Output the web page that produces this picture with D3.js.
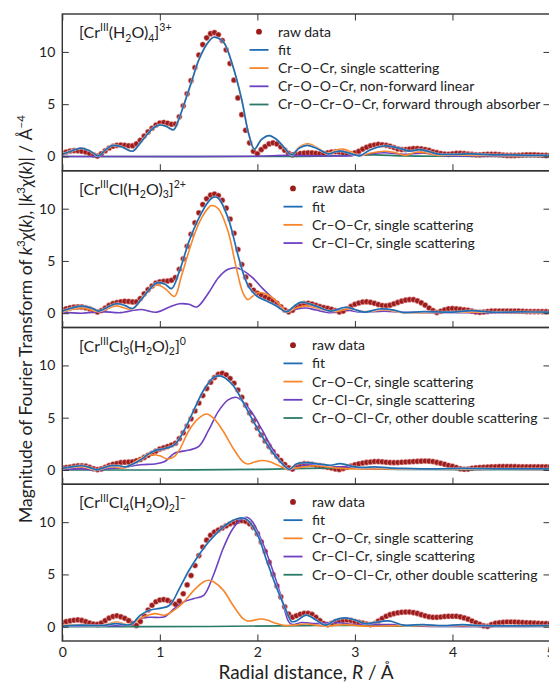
<!DOCTYPE html>
<html><head><meta charset="utf-8">
<script src="https://cdn.jsdelivr.net/npm/d3@7"></script>
<style>
html,body{margin:0;padding:0;background:#fff;}
svg{display:block;}
text{font-family:Lato,"Open Sans",sans-serif;fill:#222;}
</style></head>
<body>
<svg id="chart" width="549" height="682"></svg>
<script>
// ---------------- DATA ----------------
const rawStep = 0.04;           // R spacing of raw data points (Å)
const xTickLabels = ["0","1","2","3","4","5"];
const yTickValues = [0,5,10];

// raw data |k3 chi(R)| sampled every 0.04 Å from 0 to 5
const raw1 = [0.30,0.42,0.52,0.56,0.55,0.50,0.42,0.30,0.15,0.03,0.25,0.55,0.80,0.98,1.06,1.10,1.06,1.02,1.02,1.20,
1.55,1.95,2.35,2.70,3.00,3.20,3.25,3.18,3.08,3.10,3.80,4.85,6.00,7.25,8.50,9.70,10.70,11.35,11.75,11.85,
11.65,11.10,10.20,8.90,7.30,5.60,4.00,2.50,1.30,0.50,0.25,0.65,0.95,1.20,1.30,1.20,0.92,0.60,0.30,0.15,
0.20,0.28,0.33,0.35,0.34,0.30,0.26,0.27,0.35,0.42,0.45,0.42,0.35,0.27,0.25,0.35,0.50,0.70,0.88,1.02,
1.10,1.15,1.12,1.06,0.98,0.85,0.72,0.66,0.66,0.71,0.75,0.75,0.72,0.66,0.58,0.45,0.37,0.28,0.22,0.20,
0.25,0.29,0.30,0.28,0.24,0.20,0.16,0.15,0.18,0.20,0.20,0.20,0.17,0.13,0.10,0.10,0.10,0.11,0.13,0.15,
0.15,0.15,0.13,0.11,0.10,0.10];
const raw2 = [0.30,0.42,0.52,0.58,0.60,0.60,0.52,0.42,0.25,0.12,0.25,0.50,0.75,0.92,1.02,1.10,1.14,1.12,1.08,1.08,
1.40,1.85,2.25,2.60,2.88,3.00,3.04,3.08,3.15,3.40,4.20,5.20,6.40,7.55,8.65,9.60,10.40,10.95,11.30,11.40,
11.25,10.80,10.05,9.00,7.65,6.10,4.65,3.45,2.65,2.20,1.90,1.70,1.52,1.37,1.20,0.95,0.62,0.30,0.13,0.28,
0.60,0.80,0.92,0.95,0.88,0.75,0.63,0.54,0.46,0.37,0.25,0.12,0.20,0.42,0.65,0.85,0.98,1.07,1.10,1.04,
0.95,0.83,0.73,0.70,0.77,0.90,1.03,1.15,1.25,1.30,1.30,1.18,1.00,0.77,0.50,0.25,0.07,0.18,0.32,0.42,
0.45,0.42,0.37,0.33,0.28,0.20,0.12,0.08,0.12,0.16,0.20,0.20,0.20,0.20,0.20,0.20,0.20,0.20,0.18,0.16,
0.15,0.15,0.15,0.15,0.15,0.15];
const raw3 = [0.20,0.24,0.28,0.34,0.40,0.40,0.36,0.26,0.12,0.03,0.10,0.26,0.42,0.54,0.62,0.70,0.74,0.75,0.78,0.88,
1.00,1.20,1.40,1.60,1.80,2.00,2.12,2.24,2.38,2.55,3.00,3.55,4.20,4.90,5.65,6.40,7.12,7.80,8.40,8.85,
9.15,9.25,9.10,8.75,8.30,7.65,6.95,6.20,5.45,4.70,4.00,3.35,2.78,2.25,1.75,1.30,0.90,0.52,0.20,0.08,
0.35,0.52,0.60,0.59,0.54,0.45,0.41,0.34,0.26,0.18,0.10,0.04,0.14,0.26,0.38,0.50,0.58,0.66,0.72,0.76,
0.80,0.80,0.78,0.74,0.71,0.70,0.71,0.74,0.76,0.78,0.80,0.82,0.84,0.85,0.84,0.80,0.72,0.64,0.54,0.43,
0.35,0.23,0.12,0.06,0.08,0.16,0.21,0.24,0.26,0.28,0.30,0.31,0.32,0.33,0.33,0.33,0.32,0.31,0.30,0.30,
0.30,0.30,0.30,0.30,0.30,0.30];
const raw4 = [0.40,0.48,0.56,0.62,0.65,0.60,0.48,0.35,0.25,0.22,0.35,0.58,0.82,0.98,1.05,0.95,0.80,0.58,0.30,0.12,
0.50,1.05,1.60,2.05,2.38,2.55,2.60,2.52,2.33,2.15,2.45,3.15,4.00,4.90,5.85,6.80,7.62,8.28,8.75,9.05,
9.25,9.45,9.65,9.85,9.98,10.10,10.15,10.08,9.85,9.50,8.90,8.10,7.20,6.15,5.00,3.90,2.85,1.90,1.20,0.90,
1.05,1.18,1.27,1.28,1.18,0.90,0.58,0.30,0.20,0.32,0.50,0.58,0.63,0.64,0.60,0.50,0.42,0.34,0.26,0.20,
0.30,0.54,0.78,1.00,1.15,1.25,1.33,1.38,1.40,1.40,1.35,1.27,1.15,1.04,0.95,0.90,0.90,0.93,0.97,1.00,
1.00,1.00,0.94,0.84,0.72,0.55,0.38,0.22,0.08,0.03,0.20,0.33,0.38,0.42,0.45,0.45,0.44,0.42,0.40,0.38,
0.36,0.34,0.32,0.30,0.30,0.30];

// fitted curves and paths: [R, magnitude]
const fit1 = [[0,0.2],[0.1,0.55],[0.19,0.8],[0.28,0.55],[0.37,0.06],[0.44,0.6],[0.51,1.05],[0.6,0.95],[0.72,0.5],[0.8,1.3],[0.87,2.1],[0.93,2.7],[0.99,3.0],[1.06,2.9],[1.14,2.55],[1.18,3.2],[1.23,4.5],[1.32,7.0],[1.40,9.25],[1.49,10.85],[1.55,11.4],[1.6,11.3],[1.66,10.85],[1.75,8.6],[1.84,5.4],[1.91,2.2],[1.97,0.7],[2.04,1.6],[2.12,2.0],[2.2,1.6],[2.28,0.8],[2.35,0.16],[2.43,0.8],[2.51,1.05],[2.6,0.8],[2.73,0.25],[2.8,0.45],[2.86,0.5],[2.95,0.3],[3.05,0.06],[3.15,0.6],[3.3,1.0],[3.45,0.8],[3.56,0.5],[3.66,0.65],[3.75,0.5],[3.84,0.25],[4.0,0.2],[4.2,0.25],[4.4,0.15],[4.6,0.15],[4.8,0.1],[5.0,0.1]];
const oSS1 = [[0,0.2],[0.1,0.55],[0.19,0.8],[0.28,0.55],[0.37,0.06],[0.44,0.6],[0.51,1.05],[0.6,0.95],[0.72,0.5],[0.8,1.3],[0.87,2.1],[0.93,2.7],[0.99,3.0],[1.06,2.9],[1.14,2.55],[1.18,3.2],[1.23,4.5],[1.32,7.0],[1.40,9.25],[1.49,10.85],[1.55,11.4],[1.6,11.3],[1.66,10.85],[1.75,8.6],[1.84,5.4],[1.91,2.2],[1.97,0.7],[2.04,1.6],[2.12,2.0],[2.2,1.6],[2.28,0.8],[2.35,0.16],[2.43,0.9],[2.52,1.2],[2.62,0.8],[2.72,0.3],[2.8,0.6],[2.88,0.7],[2.97,0.4],[3.05,0.05],[3.15,0.3],[3.3,0.5],[3.42,0.35],[3.52,0.1],[3.62,0.4],[3.72,0.35],[3.85,0.1],[4.0,0.15],[4.3,0.1],[5,0.05]];
const pNF1 = [[0,0.0],[1,0.0],[2,0.02],[2.3,0.1],[2.6,0.05],[2.9,0.05],[3.1,0.2],[3.3,0.35],[3.5,0.2],[3.7,0.3],[3.9,0.1],[4.2,0.05],[5,0.02]];
const gFW1 = [[0,0],[2.5,0],[2.9,0.08],[3.2,0.15],[3.5,0.05],[4,0.02],[5,0.0]];

const fit2 = [[0,0.2],[0.1,0.5],[0.2,0.67],[0.3,0.5],[0.37,0.2],[0.45,0.5],[0.55,0.9],[0.64,0.75],[0.72,0.45],[0.8,1.2],[0.87,2.0],[0.97,2.9],[1.05,2.8],[1.12,2.35],[1.2,4.0],[1.3,6.9],[1.4,9.1],[1.5,10.7],[1.55,11.1],[1.6,11.0],[1.7,9.1],[1.8,5.6],[1.87,3.4],[1.92,2.4],[2.0,1.6],[2.1,1.15],[2.2,0.67],[2.3,0.13],[2.38,0.7],[2.45,1.05],[2.6,0.67],[2.75,0.2],[2.9,0.57],[3.0,0.35],[3.1,0.1],[3.25,0.4],[3.4,0.3],[3.5,0.06],[3.7,0.15],[4.0,0.1],[4.2,0.25],[4.4,0.1],[4.7,0.12],[5,0.1]];
const oSS2 = [[0,0.1],[0.2,0.5],[0.37,0.15],[0.55,0.7],[0.72,0.4],[0.85,1.8],[0.97,2.7],[1.06,2.3],[1.15,1.6],[1.22,3.5],[1.3,6.0],[1.4,8.6],[1.5,10.1],[1.53,10.3],[1.6,10.0],[1.7,7.8],[1.78,4.5],[1.85,2.0],[1.9,1.3],[1.95,1.6],[2.0,1.95],[2.07,1.9],[2.15,1.5],[2.25,0.6],[2.3,0.1],[2.4,0.5],[2.5,0.7],[2.65,0.4],[2.8,0.15],[2.95,0.4],[3.1,0.15],[3.3,0.3],[3.5,0.05],[4,0.1],[5,0.05]];
const clSS2 = [[0,0.1],[0.2,0.0],[0.4,0.15],[0.6,0.05],[0.8,0.35],[0.97,0.1],[1.1,0.6],[1.2,0.9],[1.3,0.85],[1.38,0.6],[1.5,1.95],[1.6,3.4],[1.7,4.2],[1.78,4.35],[1.85,4.1],[1.95,3.4],[2.05,2.4],[2.15,1.5],[2.25,0.5],[2.3,0.15],[2.4,0.4],[2.5,0.5],[2.6,0.3],[2.75,0.05],[2.9,0.3],[3.05,0.1],[3.3,0.2],[3.5,0.1],[4,0.05],[5,0.05]];

const fit3 = [[0,0.15],[0.1,0.3],[0.2,0.4],[0.28,0.25],[0.35,0.0],[0.42,0.2],[0.5,0.4],[0.58,0.4],[0.65,0.3],[0.72,0.55],[0.8,0.95],[0.88,1.5],[0.95,1.85],[1.05,2.05],[1.15,2.4],[1.25,3.8],[1.35,5.75],[1.45,7.65],[1.55,8.85],[1.6,9.0],[1.65,8.9],[1.75,8.1],[1.85,6.55],[1.95,4.8],[2.05,3.2],[2.15,1.75],[2.25,0.65],[2.33,0.06],[2.4,0.57],[2.5,0.7],[2.65,0.55],[2.75,0.45],[2.85,0.6],[3.0,0.3],[3.1,0.25],[3.2,0.3],[3.35,0.2],[3.5,0.15],[3.8,0.1],[4.1,0.15],[4.5,0.1],[5,0.1]];
const oSS3 = [[0,0.1],[0.2,0.3],[0.35,0.0],[0.5,0.3],[0.65,0.2],[0.8,1.1],[0.92,1.45],[1.0,1.35],[1.08,1.05],[1.15,1.3],[1.2,1.9],[1.3,3.8],[1.4,4.95],[1.48,5.35],[1.55,4.95],[1.65,3.7],[1.75,2.1],[1.85,0.8],[1.9,0.57],[1.97,0.75],[2.05,0.9],[2.12,0.8],[2.2,0.5],[2.3,0.1],[2.4,0.2],[2.6,0.4],[2.8,0.2],[3.0,0.1],[3.3,0.1],[5,0.05]];
const clSS3 = [[0,0.05],[0.2,0.1],[0.35,0.0],[0.5,0.15],[0.6,0.2],[0.8,0.5],[0.95,0.57],[1.05,0.8],[1.15,1.6],[1.3,1.9],[1.4,2.25],[1.5,3.8],[1.6,5.6],[1.7,6.7],[1.78,6.95],[1.85,6.55],[1.95,5.4],[2.05,3.8],[2.15,2.1],[2.25,0.65],[2.33,0.05],[2.45,0.4],[2.6,0.5],[2.75,0.3],[2.9,0.3],[3.1,0.15],[3.5,0.1],[5,0.05]];
const dsOCl3 = [[0,0.0],[1,0.0],[2,0.05],[2.5,0.15],[3,0.15],[3.5,0.05],[5,0.02]];

const fit4 = [[0,0.05],[0.2,0.15],[0.4,0.1],[0.55,0.3],[0.7,0.2],[0.8,1.1],[0.9,1.6],[1.0,1.75],[1.1,2.05],[1.2,3.65],[1.3,5.4],[1.4,6.85],[1.5,8.1],[1.6,9.1],[1.7,9.9],[1.8,10.35],[1.85,10.4],[1.9,10.2],[2.0,8.8],[2.1,6.2],[2.2,3.65],[2.3,1.45],[2.35,0.5],[2.4,0.55],[2.5,1.1],[2.6,0.65],[2.7,0.15],[2.8,0.65],[2.9,0.85],[3.0,0.65],[3.1,0.3],[3.2,0.4],[3.35,0.55],[3.5,0.15],[3.7,0.2],[3.9,0.1],[4.1,0.2],[4.3,0.1],[5,0.1]];
const oSS4 = [[0,0.1],[0.2,0.2],[0.4,0.1],[0.55,0.45],[0.7,0.2],[0.8,0.8],[0.95,1.25],[1.05,1.1],[1.15,1.6],[1.25,2.4],[1.35,3.5],[1.45,4.3],[1.5,4.45],[1.55,4.3],[1.65,3.5],[1.75,2.05],[1.85,0.8],[1.9,0.55],[2.05,0.73],[2.2,0.3],[2.3,0.1],[2.5,0.25],[2.7,0.05],[2.9,0.2],[3.1,0.05],[3.5,0.1],[5,0.05]];
const clSS4 = [[0,0.05],[0.3,0.1],[0.5,0.1],[0.7,0.2],[0.8,0.8],[0.9,0.9],[1.05,0.95],[1.15,1.75],[1.25,2.4],[1.35,2.7],[1.45,3.0],[1.55,4.95],[1.65,7.5],[1.75,9.4],[1.85,10.35],[1.9,10.45],[1.95,10.05],[2.05,8.1],[2.15,5.6],[2.25,2.7],[2.32,0.5],[2.36,0.2],[2.45,0.4],[2.6,0.3],[2.8,0.4],[3.0,0.2],[3.4,0.2],[3.7,0.05],[5,0.05]];
const dsOCl4 = [[0,0.0],[1.5,0.02],[2.5,0.1],[3,0.12],[3.5,0.05],[5,0.02]];

const panelLabels = [
  [["[Cr",""],["III","sup"],["(H",""],["2","sub"],["O)",""],["4","sub"],["]",""],["3+","sup"]],
  [["[Cr",""],["III","sup"],["Cl(H",""],["2","sub"],["O)",""],["3","sub"],["]",""],["2+","sup"]],
  [["[Cr",""],["III","sup"],["Cl",""],["3","sub"],["(H",""],["2","sub"],["O)",""],["2","sub"],["]",""],["0","sup"]],
  [["[Cr",""],["III","sup"],["Cl",""],["4","sub"],["(H",""],["2","sub"],["O)",""],["2","sub"],["]",""],["−","sup"]]
];
const nameRaw = "raw data", nameFit = "fit";
const nameOSS = "Cr–O–Cr, single scattering";
const nameClSS = "Cr–Cl–Cr, single scattering";
const nameNF = "Cr–O–O–Cr, non-forward linear";
const nameFW = "Cr–O–Cr–O–Cr, forward through absorber";
const nameDS = "Cr–O–Cl–Cr, other double scattering";

// ---------------- STYLE ----------------
const C = {raw:"#9c1b1b", rawEdge:"#f2b9b9", fit:"#1f6db3", orange:"#f7862c", purple:"#6e40c2", green:"#2a7a6a", frame:"#333"};

const panels = [
  {raw:raw1, fit:fit1, comps:[{d:gFW1,c:C.green},{d:pNF1,c:C.purple},{d:oSS1,c:C.orange}],
   legend:[nameOSS,nameNF,nameFW], legendColors:[C.orange,C.purple,C.green], lx:259},
  {raw:raw2, fit:fit2, comps:[{d:clSS2,c:C.purple},{d:oSS2,c:C.orange}],
   legend:[nameOSS,nameClSS], legendColors:[C.orange,C.purple], lx:293},
  {raw:raw3, fit:fit3, comps:[{d:dsOCl3,c:C.green},{d:clSS3,c:C.purple},{d:oSS3,c:C.orange}],
   legend:[nameOSS,nameClSS,nameDS], legendColors:[C.orange,C.purple,C.green], lx:293},
  {raw:raw4, fit:fit4, comps:[{d:dsOCl4,c:C.green},{d:clSS4,c:C.purple},{d:oSS4,c:C.orange}],
   legend:[nameOSS,nameClSS,nameDS], legendColors:[C.orange,C.purple,C.green], lx:293}
];

const svg = d3.select("#chart");
const left = 62.3, right = 550, top0 = 14, bottom = 641;
const ph = (bottom - top0) / panels.length;

const x = d3.scaleLinear().domain([0,5]).range([left,right]);

function rich(sel, parts, fs){
  let cur = 0;
  parts.forEach(([t,k])=>{
    let target = 0, size = fs, style = "normal";
    if(k==="sup"){ target = -0.42*fs; size = 0.66*fs; }
    else if(k==="sub"){ target = 0.22*fs; size = 0.66*fs; }
    else if(k==="i"){ style = "italic"; }
    sel.append("tspan").attr("dy", (target-cur).toFixed(2)).attr("font-size", size)
      .attr("font-style", style).text(t);
    cur = target;
  });
}

svg.append("clipPath").attr("id","clipAll").append("rect")
  .attr("x",left).attr("y",top0).attr("width",right-left).attr("height",bottom-top0);

panels.forEach((p,i)=>{
  const pt = top0 + i*ph, pb = pt + ph;
  const y = d3.scaleLinear().domain([-1.37,13.63]).range([pb,pt]);
  const g = svg.append("g");
  const plot = g.append("g").attr("clip-path","url(#clipAll)");

  // raw dots
  const rawPts = p.raw.map((v,j)=>[j*rawStep, v]);
  plot.append("g").selectAll("circle").data(rawPts).join("circle")
    .attr("cx", d=>x(d[0])).attr("cy", d=>y(d[1])).attr("r",2.8)
    .attr("fill", C.raw).attr("stroke", C.rawEdge).attr("stroke-width",0.6).attr("stroke-opacity",0.9);

  const line = d3.line().x(d=>x(d[0])).y(d=>y(d[1])).curve(d3.curveCatmullRom.alpha(0.5));
  p.comps.forEach(c=>{
    plot.append("path").attr("d", line(c.d)).attr("fill","none").attr("stroke",c.c).attr("stroke-width",1.6);
  });
  plot.append("path").attr("d", line(p.fit)).attr("fill","none").attr("stroke","#fff").attr("stroke-width",2.8).attr("stroke-opacity",0.5);
  plot.append("path").attr("d", line(p.fit)).attr("fill","none").attr("stroke",C.fit).attr("stroke-width",1.7);

  // axes
  const minorX = d3.range(0,5.001,0.2);
  const majorX = [0,1,2,3,4,5];
  const minorY = d3.range(-1,13.5,1);
  const bAx = g.append("g").attr("transform",`translate(0,${pb})`);
  bAx.call(d3.axisBottom(x).tickValues(minorX).tickSize(-3.5).tickFormat(""));
  bAx.call(d3.axisBottom(x).tickValues(majorX).tickSize(-6.5).tickFormat(""));
  if(i===0){
    const tAx = g.append("g").attr("transform",`translate(0,${pt})`);
    tAx.call(d3.axisTop(x).tickValues(minorX).tickSize(-3.5).tickFormat(""));
    tAx.call(d3.axisTop(x).tickValues(majorX).tickSize(-6.5).tickFormat(""));
  }
  const lAx = g.append("g").attr("transform",`translate(${left},0)`);
  lAx.call(d3.axisLeft(y).tickValues(minorY).tickSize(-3.5).tickFormat(""));
  lAx.call(d3.axisLeft(y).tickValues(yTickValues).tickSize(-6.5).tickPadding(7).tickFormat(d3.format("d")));
  const rAx = g.append("g").attr("transform",`translate(${right},0)`);
  rAx.call(d3.axisRight(y).tickValues(minorY).tickSize(-3.5).tickFormat(""));
  rAx.call(d3.axisRight(y).tickValues(yTickValues).tickSize(-6.5).tickFormat(""));
  g.selectAll(".domain").remove();
  g.selectAll(".tick line").attr("stroke",C.frame).attr("stroke-width",1);
  lAx.selectAll(".tick text").attr("font-size",14).attr("fill","#222").attr("font-family","Lato");
  if(i===panels.length-1){
    const lab = g.append("g").attr("transform",`translate(0,${pb})`)
      .call(d3.axisBottom(x).tickValues(majorX).tickSize(0).tickPadding(6.2).tickFormat((d,k)=>xTickLabels[k]));
    lab.select(".domain").remove();
    lab.selectAll(".tick text").attr("font-size",14).attr("fill","#222").attr("font-family","Lato");
  }
  g.append("rect").attr("x",left).attr("y",pt).attr("width",right-left).attr("height",ph)
    .attr("fill","none").attr("stroke",C.frame).attr("stroke-width",1.4);

  // panel label
  const t = g.append("text").attr("x",79).attr("y",pt+24).attr("font-size",16);
  rich(t, panelLabels[i], 16);

  // legend
  const lg = g.append("g").attr("font-size",14);
  const rows = [{n:nameRaw,type:"dot",c:C.raw},{n:nameFit,type:"line",c:C.fit}]
    .concat(p.legend.map((n,k)=>({n,type:"line",c:p.legendColors[k]})));
  rows.forEach((r,k)=>{
    const cy = pt + 17.7 + k*18.2;
    if(r.type==="dot") lg.append("circle").attr("cx",p.lx).attr("cy",cy).attr("r",2.9).attr("fill",r.c);
    else lg.append("line").attr("x1",p.lx-9.5).attr("x2",p.lx+9.5).attr("y1",cy).attr("y2",cy).attr("stroke",r.c).attr("stroke-width",1.8);
    lg.append("text").attr("x",p.lx+19).attr("y",cy).attr("dy","0.35em").text(r.n);
  });
});

// axis titles
const xt = svg.append("text").attr("x",306).attr("y",679).attr("text-anchor","middle").attr("font-size",19);
rich(xt, [["Radial distance, ",""],["R","i"],[" / Å",""]], 19);

const yt = svg.append("text").attr("transform",`translate(32,319) rotate(-90)`)
  .attr("text-anchor","middle").attr("font-size",17.5);
rich(yt, [["Magnitude of Fourier Transform of ",""],["k","i"],["3","sup"],["χ","i"],["(",""],["k","i"],["), |",""],["k","i"],["3","sup"],["χ","i"],["(",""],["k","i"],[")| / Å",""],["−4","sup"]], 17.5);
</script>
</body></html>
